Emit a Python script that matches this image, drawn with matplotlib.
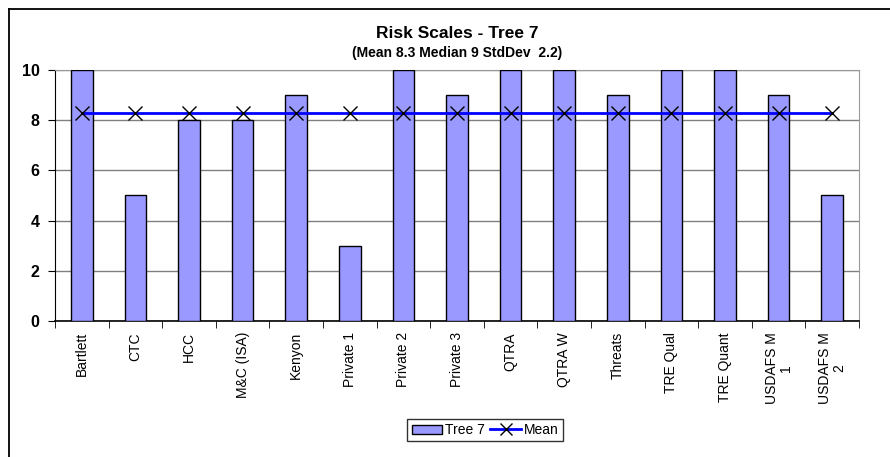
import numpy as np
import matplotlib.pyplot as plt
from matplotlib.lines import Line2D

plt.rcParams['font.family'] = ['Liberation Sans', 'DejaVu Sans']

categories = ['Bartlett', 'CTC', 'HCC', 'M&C (ISA)', 'Kenyon', 'Private 1',
              'Private 2', 'Private 3', 'QTRA', 'QTRA W', 'Threats', 'TRE Qual',
              'TRE Quant', 'USDAFS M\n1', 'USDAFS M\n2']
tree7 = [10, 5, 8, 8, 9, 3, 10, 9, 10, 10, 9, 10, 10, 9, 5]
mean_val = 8.3

fig = plt.figure(figsize=(8.9, 4.57), dpi=100)
ax = fig.add_axes([55/890, 1-321/457, (859-55)/890, (321-70)/457])

x = np.arange(len(categories))
ax.bar(x, tree7, width=0.4, color='#9999FF', edgecolor='black', linewidth=1,
       label='Tree 7', zorder=3)
ax.plot(x, [mean_val]*len(x), color='#0000FF', linewidth=2, zorder=4)
ax.plot(x, [mean_val]*len(x), linestyle='none', marker='x', markersize=10,
        markeredgecolor='black', markeredgewidth=1, zorder=5)

ax.set_xlim(-0.5, len(x)-0.5)
ax.set_ylim(0, 10)
ax.set_yticks(range(0, 11, 2))
ax.set_yticklabels([str(v) for v in range(0, 11, 2)], fontsize=11.5, fontweight='bold')
ax.yaxis.grid(True, color='#808080', linewidth=1, zorder=0)
ax.set_axisbelow(True)

ax.set_xticks(x)
ax.set_xticklabels(categories, rotation=90, fontsize=10, va='top', ha='center',
                   linespacing=1.0)
ax.set_xticks(np.arange(-0.5, len(x), 1), minor=True)
ax.tick_params(axis='x', which='major', length=0, pad=8)
ax.tick_params(axis='x', which='minor', length=5, direction='out', color='black')
ax.tick_params(axis='y', length=5, direction='out', color='black', pad=6)

for s in ['top', 'right']:
    ax.spines[s].set_color('#999999')
ax.spines['left'].set_color('black')
ax.spines['bottom'].set_color('black')
ax.spines['bottom'].set_linewidth(1.2)

fig.text(0.5135, 1-34/457, 'Risk Scales - Tree 7', ha='center', va='center',
         fontsize=12.5, fontweight='bold')
fig.text(0.5135, 1-53/457, '(Mean 8.3 Median 9 StdDev  2.2)', ha='center',
         va='center', fontsize=10, fontweight='bold')

# outer chart border (clipped on right and bottom)
fig.add_artist(Line2D([9/890, 9/890], [0, 1-9/457], color='black', linewidth=1.3))
fig.add_artist(Line2D([9/890, 1], [1-9/457, 1-9/457], color='black', linewidth=1.3))

bar_handle = plt.Rectangle((0, 0), 1, 1, facecolor='#9999FF', edgecolor='black', linewidth=1)
line_handle = Line2D([], [], color='#0000FF', linewidth=2, marker='x', markersize=8,
                     markeredgecolor='black', markeredgewidth=1)
leg = fig.legend([bar_handle, line_handle], ['Tree 7', 'Mean'], loc='center',
                 bbox_to_anchor=(485/890, 1-430/457), ncol=2, fontsize=10,
                 frameon=True, fancybox=False, edgecolor='black', handlelength=2.2,
                 handletextpad=0.2, columnspacing=0.4, borderpad=0.3,
                 handleheight=0.6)
leg.get_frame().set_linewidth(1)

fig.savefig('out.png', dpi=100)
